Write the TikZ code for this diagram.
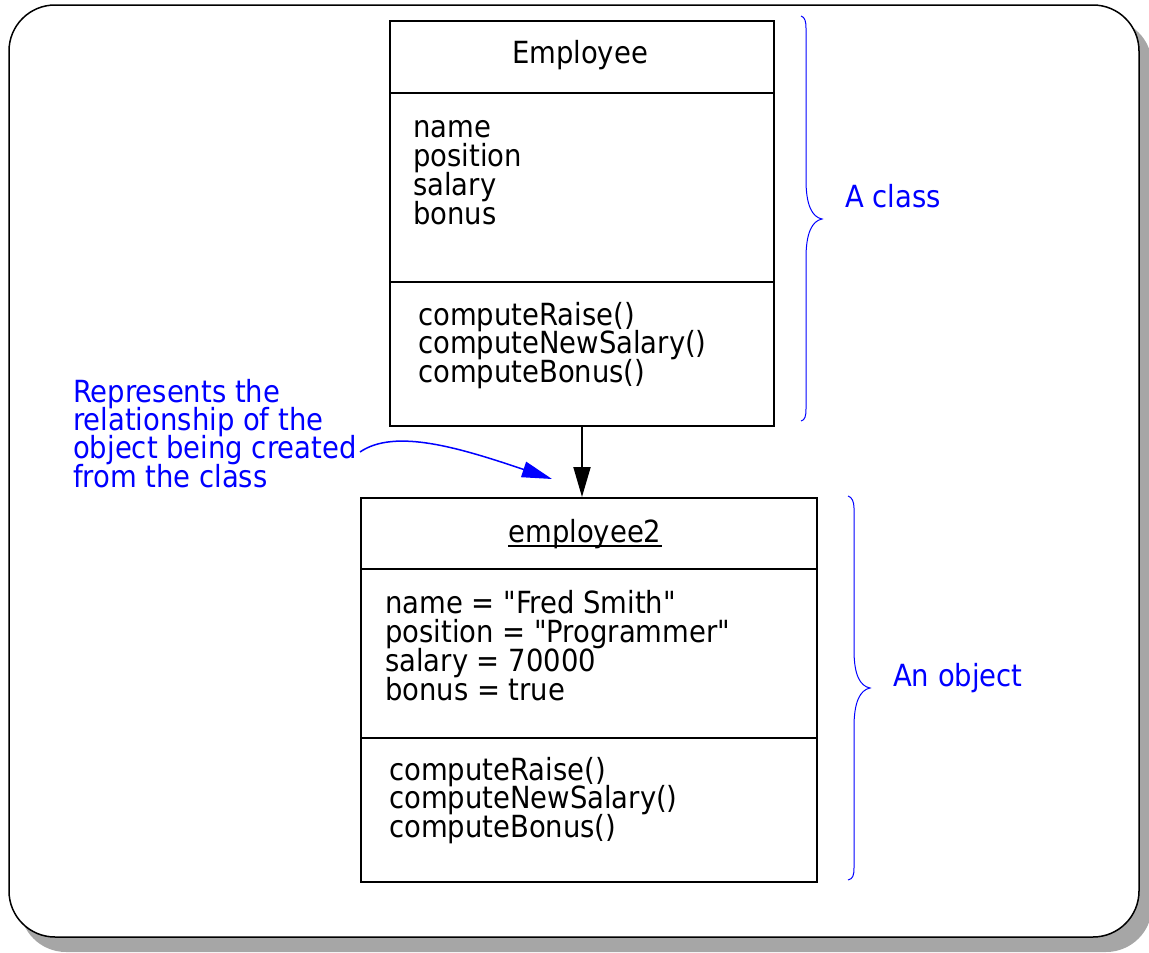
\documentclass[tikz,border=0pt]{standalone}
\usepackage{fontspec}
\setmainfont{DejaVu Sans Condensed}[Ligatures=TeXOff]
\usetikzlibrary{arrows.meta}
\definecolor{shadowgray}{HTML}{A6A6A6}
\definecolor{noteblue}{HTML}{0000FF}
\begin{document}
\begin{tikzpicture}[x=1pt,y=-1pt,
  compart/.style={draw=black,line width=2pt,inner sep=0pt,anchor=north west},
  umltext/.style={font=\fontsize{30.5pt}{29pt}\selectfont,inner sep=0pt,anchor=base west},
  notetext/.style={umltext,text=noteblue},
  bracepath/.style={draw=noteblue,line width=1pt},
  frameline/.style={line width=1.5pt,rounded corners=46pt}]
\useasboundingbox (0,0) rectangle (1149,953);

% rounded frame with its drop shadow
\fill[shadowgray,rounded corners=46pt] (20,19) rectangle (1152,952);
\draw[frameline,fill=white] (9,5) rectangle (1139,937);

% class box: Employee
\node[compart,minimum width=384pt,minimum height=72pt]  (clsname) at (389,20)  {};
\node[compart,minimum width=384pt,minimum height=189pt] (clsattr) at (389,92)  {};
\node[compart,minimum width=384pt,minimum height=144pt] (clsops)  at (389,281) {};

\node[umltext,anchor=base] (clstitle) at (580,63) {Employee};
\node[umltext] (clsa1) at (413,137) {name};
\node[umltext] (clsa2) at (413,166) {position};
\node[umltext] (clsa3) at (413,195) {salary};
\node[umltext] (clsa4) at (413,224) {bonus};
\node[umltext] (clsm1) at (418,325) {computeRaise()};
\node[umltext] (clsm2) at (418,353) {computeNewSalary()};
\node[umltext] (clsm3) at (418,382) {computeBonus()};

% object box: employee2
\node[compart,minimum width=456pt,minimum height=71pt]  (objname) at (360,497) {};
\node[compart,minimum width=456pt,minimum height=169pt] (objattr) at (360,568) {};
\node[compart,minimum width=456pt,minimum height=144pt] (objops)  at (360,737) {};

\node[umltext,anchor=base] (objtitle) at (585,542) {employee2};
\draw[line width=1.5pt] ([yshift=-4pt]objtitle.base west) -- ([yshift=-4pt]objtitle.base east);
\node[umltext] (obja1) at (385,613) {name = "Fred Smith"};
\node[umltext] (obja2) at (385,642) {position = "Programmer"};
\node[umltext] (obja3) at (385,671) {salary = 70000};
\node[umltext] (obja4) at (385,700) {bonus = true};
\node[umltext] (objm1) at (389,780) {computeRaise()};
\node[umltext] (objm2) at (389,808) {computeNewSalary()};
\node[umltext] (objm3) at (389,837) {computeBonus()};

% instantiation arrow from class to object
\draw[line width=2pt,-{Triangle[length=30pt,width=17pt]}]
  (clsops.south) -- (clsops.south |- objname.north);

% explanatory note with its curved pointer
\node[notetext] (note1) at (73,402) {Represents the};
\node[notetext] (note2) at (73,430) {relationship of the};
\node[notetext] (note3) at (73,458) {object being created};
\node[notetext] (note4) at (73,487) {from the class};
\coordinate (curvestart) at (360,452);
\coordinate (curveend) at (552,479);
\draw[noteblue,line width=1.5pt,-{Triangle[length=30pt,width=16pt]}]
  (curvestart) .. controls (395,428) and (460,448) .. (curveend);

% braces with their captions
\draw[bracepath] (801,16) .. controls (805,17) and (806,22) .. (806,28)
  -- (806,180) .. controls (806,205) and (812,217) .. (822,219)
  .. controls (812,221) and (806,233) .. (806,258)
  -- (806,409) .. controls (806,416) and (805,420) .. (801,421);
\node[notetext] (classcap) at (845,207) {A class};

\draw[bracepath] (848,496) .. controls (852,497) and (854,502) .. (854,508)
  -- (854,650) .. controls (854,675) and (860,686) .. (870,688)
  .. controls (860,690) and (854,702) .. (854,727)
  -- (854,868) .. controls (854,875) and (853,879) .. (848,880);
\node[notetext] (objcap) at (893,686) {An object};
\end{tikzpicture}
\end{document}
